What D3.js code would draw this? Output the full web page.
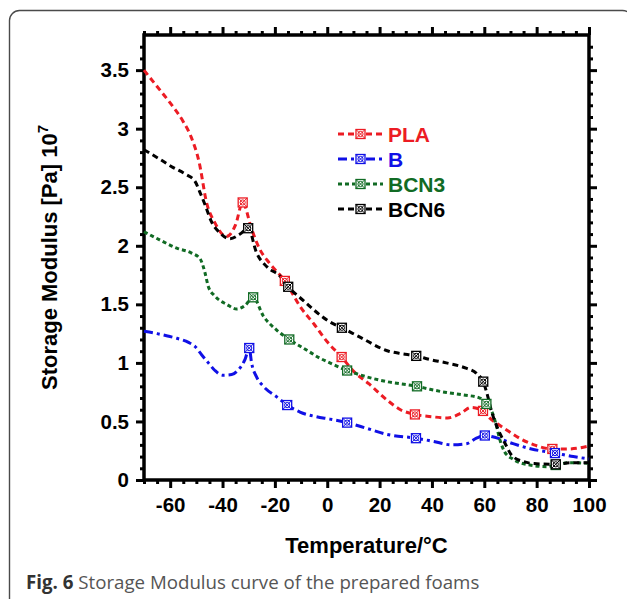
<!DOCTYPE html>
<html>
<head>
<meta charset="utf-8">
<script src="https://cdn.jsdelivr.net/npm/d3@7"></script>
<style>
  body { margin: 0; background: #fff; }
  svg { display: block; }
</style>
</head>
<body>
<div class="canva"></div>
<script>
// temperatures (°C) and storage modulus (x10^7 Pa)
const tempPLA = [-70, -65, -60, -55, -52, -49, -46, -43, -38.5, -35, -32.3, -29, -26, -22, -16.2, -10, -5, 0, 5.5, 10, 16, 23, 28, 33.5, 40, 46, 51, 55, 59.5, 62, 65, 69, 74, 79, 86, 92, 100];
const modPLA  = [3.50, 3.36, 3.22, 3.06, 2.93, 2.72, 2.36, 2.20, 2.08, 2.18, 2.37, 2.15, 1.98, 1.85, 1.70, 1.47, 1.33, 1.18, 1.05, 0.93, 0.82, 0.68, 0.60, 0.56, 0.54, 0.53, 0.57, 0.62, 0.59, 0.53, 0.48, 0.42, 0.35, 0.30, 0.265, 0.265, 0.29];
const markPLA = [-32.3, -16.2, 5.5, 33.5, 59.5, 86];

const tempB = [-70, -65, -61, -57.5, -53, -50.5, -48, -45.4, -42.9, -40, -36.5, -34, -31.4, -29.8, -28.9, -27, -24.4, -19.3, -15.3, -10.4, -4.1, 1, 7.6, 15.2, 22.7, 33.9, 40.5, 47.5, 53.2, 57, 60.2, 64.7, 71, 78, 87, 94, 100];
const modB  = [1.27, 1.25, 1.23, 1.21, 1.175, 1.14, 1.07, 1.00, 0.935, 0.895, 0.90, 0.94, 1.03, 1.127, 1.00, 0.88, 0.80, 0.71, 0.64, 0.58, 0.54, 0.52, 0.49, 0.44, 0.39, 0.357, 0.33, 0.30, 0.31, 0.357, 0.38, 0.36, 0.31, 0.265, 0.23, 0.20, 0.18];
const markB = [-29.8, -15.3, 7.6, 33.9, 60.2, 87];

const tempBCN3 = [-70, -64, -57.5, -52, -48.6, -46.7, -45.4, -42.9, -38.4, -34.6, -31.4, -28.3, -24.4, -19.3, -14.5, -7.9, -2.8, 1, 7.6, 15.2, 22.7, 34.3, 39.2, 45.6, 52, 58.3, 60.8, 63.4, 64.7, 66, 67.8, 71, 77.4, 83.8, 87.3, 92.7, 100];
const modBCN3  = [2.12, 2.05, 1.98, 1.94, 1.89, 1.77, 1.65, 1.57, 1.50, 1.46, 1.49, 1.56, 1.40, 1.28, 1.20, 1.11, 1.04, 1.00, 0.935, 0.88, 0.84, 0.80, 0.775, 0.747, 0.727, 0.70, 0.65, 0.556, 0.456, 0.34, 0.24, 0.177, 0.128, 0.114, 0.128, 0.148, 0.142];
const markBCN3 = [-28.3, -14.5, 7.6, 34.3, 60.8, 87.3];

const tempBCN6 = [-70, -64, -59, -54, -50.5, -48.5, -46.5, -44.5, -41, -37.2, -33.3, -30.2, -27, -23, -18, -14.9, -9, -5, 1, 5.6, 12.5, 23.5, 28, 34, 39, 45.5, 53, 57, 59.6, 61, 63, 65.3, 68, 70.5, 75, 79, 87.3, 93, 100];
const modBCN6  = [2.82, 2.74, 2.67, 2.61, 2.55, 2.45, 2.34, 2.22, 2.11, 2.06, 2.10, 2.15, 1.94, 1.82, 1.74, 1.65, 1.53, 1.45, 1.35, 1.30, 1.22, 1.10, 1.08, 1.06, 1.03, 1.00, 0.955, 0.91, 0.84, 0.74, 0.57, 0.43, 0.31, 0.21, 0.157, 0.14, 0.134, 0.148, 0.148];
const markBCN6 = [-30.2, -14.9, 5.6, 34, 59.6, 87.3];

const seriesNames = ["PLA", "B", "BCN3", "BCN6"];
const xTicks = [-60, -40, -20, 0, 20, 40, 60, 80, 100];
const yTicks = [0, 0.5, 1, 1.5, 2, 2.5, 3, 3.5];

const colors = ["#ec1c24", "#1010e6", "#116b24", "#000000"];
const dashes = ["6,4", "9,4,3,4", "4,3", "6,4"];

const series = [
  { name: seriesNames[0], t: tempPLA, v: modPLA, m: markPLA },
  { name: seriesNames[1], t: tempB, v: modB, m: markB },
  { name: seriesNames[2], t: tempBCN3, v: modBCN3, m: markBCN3 },
  { name: seriesNames[3], t: tempBCN6, v: modBCN6, m: markBCN6 }
].map((s, i) => ({
  name: s.name,
  color: colors[i],
  dash: dashes[i],
  points: s.t.map((t, j) => ({ t: t, v: s.v[j] })),
  marks: s.m.map(t => ({ t: t, v: s.v[s.t.indexOf(t)] }))
}));

var width = 627, height = 599;
var plot = { left: 144, right: 589, top: 35, bottom: 480 };

const svg = d3.select(".canva").append("svg")
    .attr("width", width)
    .attr("height", height)
    .attr("font-family", "'Liberation Sans', Arial, sans-serif");

// figure panel border
svg.append("rect")
    .attr("x", 9.5).attr("y", 10.5)
    .attr("width", 623).attr("height", 640)
    .attr("rx", 10)
    .attr("fill", "none")
    .attr("stroke", "#4a4a4a")
    .attr("stroke-width", 1.4);

const x = d3.scaleLinear([-70, 100], [plot.left, plot.right]);
const y = d3.scaleLinear([0, 3.8], [plot.bottom, plot.top]);

const minorX = d3.range(-70, 101, 5).filter(d => !xTicks.includes(d));
const minorY = d3.range(0, 38).map(d => d / 10).filter(d => Math.round(d * 10) % 5 !== 0);

function styleAxis(g) {
  g.select(".domain").remove();
  g.selectAll(".tick line").attr("stroke", "#000").attr("stroke-width", 3);
}

// major + minor ticks on all four sides (pointing outwards)
[
  [d3.axisBottom, x, xTicks, minorX, `translate(0,${plot.bottom})`, true],
  [d3.axisTop, x, xTicks, minorX, `translate(0,${plot.top})`, false],
  [d3.axisLeft, y, yTicks, minorY, `translate(${plot.left},0)`, true],
  [d3.axisRight, y, yTicks, minorY, `translate(${plot.right},0)`, false]
].forEach(([axisFn, sc, major, minor, tr, labels]) => {
  svg.append("g")
      .attr("transform", tr)
      .call(axisFn(sc).tickValues(minor).tickSize(4).tickFormat(""))
      .call(styleAxis);
  const g = svg.append("g")
      .attr("transform", tr)
      .call(axisFn(sc).tickValues(major).tickSize(8).tickPadding(axisFn === d3.axisBottom ? 9 : 7)
            .tickFormat(labels ? (d => String(d)) : ""))
      .call(styleAxis);
  g.selectAll("text")
      .attr("fill", "#000")
      .attr("font-size", 20.5)
      .attr("font-weight", "bold")
      .attr("font-family", "'Liberation Sans', Arial, sans-serif");
});

// plot frame
svg.append("rect")
    .attr("x", plot.left).attr("y", plot.top)
    .attr("width", plot.right - plot.left)
    .attr("height", plot.bottom - plot.top)
    .attr("fill", "none")
    .attr("stroke", "#000")
    .attr("stroke-width", 3.5);

const line = d3.line()
    .x(d => x(d.t))
    .y(d => y(d.v))
    .curve(d3.curveMonotoneX);

function drawMarker(g, cx, cy, color) {
  const s = 4.5;
  const m = g.append("g").attr("transform", `translate(${cx},${cy})`);
  m.append("rect").attr("x", -s).attr("y", -s).attr("width", 2 * s).attr("height", 2 * s)
      .attr("fill", "#fff").attr("stroke", color).attr("stroke-width", 1.3);
  m.append("path").attr("d", `M${-s},${-s}L${s},${s}M${s},${-s}L${-s},${s}`)
      .attr("stroke", color).attr("stroke-width", 1);
  m.append("circle").attr("r", 2.6).attr("fill", "none")
      .attr("stroke", color).attr("stroke-width", 1);
}

series.forEach(s => {
  svg.append("path")
      .attr("d", line(s.points))
      .attr("fill", "none")
      .attr("stroke", s.color)
      .attr("stroke-width", 3)
      .attr("stroke-dasharray", s.dash);
});
series.forEach(s => {
  const g = svg.append("g");
  s.marks.forEach(d => drawMarker(g, x(d.t), y(d.v), s.color));
});

// legend
const legend = svg.append("g").attr("transform", "translate(338,134)");
series.forEach((s, i) => {
  const row = legend.append("g").attr("transform", `translate(0,${i * 25})`);
  row.append("line").attr("x1", 0).attr("x2", 17).attr("y1", 0).attr("y2", 0)
      .attr("stroke", s.color).attr("stroke-width", 3).attr("stroke-dasharray", s.dash);
  row.append("line").attr("x1", 28).attr("x2", 45).attr("y1", 0).attr("y2", 0)
      .attr("stroke", s.color).attr("stroke-width", 3).attr("stroke-dasharray", s.dash);
  drawMarker(row, 22.5, 0, s.color);
  row.append("text")
      .attr("x", 50).attr("y", 7.5)
      .attr("fill", s.color)
      .attr("font-size", 21)
      .attr("font-weight", "bold")
      .text(s.name);
});

// axis titles
svg.append("text")
    .attr("x", (plot.left + plot.right) / 2)
    .attr("y", 553)
    .attr("text-anchor", "middle")
    .attr("font-size", 22)
    .attr("font-weight", "bold")
    .text("Temperature/°C");

const yt = svg.append("text")
    .attr("transform", `translate(57,${(plot.top + plot.bottom) / 2}) rotate(-90)`)
    .attr("text-anchor", "middle")
    .attr("font-size", 22)
    .attr("font-weight", "bold");
yt.append("tspan").text("Storage Modulus [Pa] 10");
yt.append("tspan").attr("dy", -9).attr("font-size", 15).text("7");

// caption
const cap = svg.append("text")
    .attr("x", 26).attr("y", 589)
    .attr("font-family", "'Open Sans', sans-serif")
    .attr("font-size", 18.7)
    .attr("fill", "#555");
cap.append("tspan").attr("font-weight", "bold").attr("fill", "#333").text("Fig. 6");
cap.append("tspan").text(" Storage Modulus curve of the prepared foams");
</script>
</body>
</html>
